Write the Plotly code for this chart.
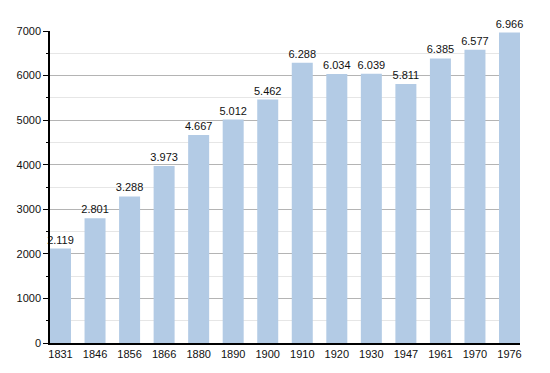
import plotly.graph_objects as go

years = ["1831", "1846", "1856", "1866", "1880", "1890", "1900", "1910", "1920", "1930", "1947", "1961", "1970", "1976"]
population = [2119, 2801, 3288, 3973, 4667, 5012, 5462, 6288, 6034, 6039, 5811, 6385, 6577, 6966]
y_ticks = [0, 1000, 2000, 3000, 4000, 5000, 6000, 7000]

fig = go.Figure(go.Bar(
    x=years, y=population,
    marker=dict(color="#b3cbe5", line=dict(width=0)),
    texttemplate="%{y:,}", textposition="outside", cliponaxis=False,
    constraintext="none",
    textfont=dict(size=11, color="#111111", family="Liberation Sans, Arial, sans-serif"),
))

# page body has an 8px default margin, so the figure is offset by (8, 8)
fig.update_layout(
    width=542, height=365,
    margin=dict(l=42, r=30, t=23, b=30, autoexpand=False),
    paper_bgcolor="white", plot_bgcolor="white",
    separators=",.",
    bargap=0.392,
    showlegend=False,
    font=dict(family="Liberation Sans, Arial, sans-serif", size=11, color="#111111"),
)
fig.update_xaxes(
    type="category", range=[-0.304, 13.304], automargin=False,
    showline=True, linecolor="black", linewidth=1.5,
    ticks="", showgrid=False, tickfont=dict(size=11),
)
fig.update_yaxes(
    range=[0, 7000], tickvals=y_ticks, tickformat="d", automargin=False,
    showline=True, linecolor="black", linewidth=1.5,
    ticks="outside", ticklen=5, tickcolor="black", tickwidth=1,
    showgrid=True, gridcolor="#b4b4b4", gridwidth=1,
    zeroline=False,
    minor=dict(dtick=500, tick0=0, ticks="outside", ticklen=2, tickcolor="black",
               showgrid=True, gridcolor="#e6e6e6", gridwidth=1),
    tickfont=dict(size=11),
)

fig.write_html("out.html")
